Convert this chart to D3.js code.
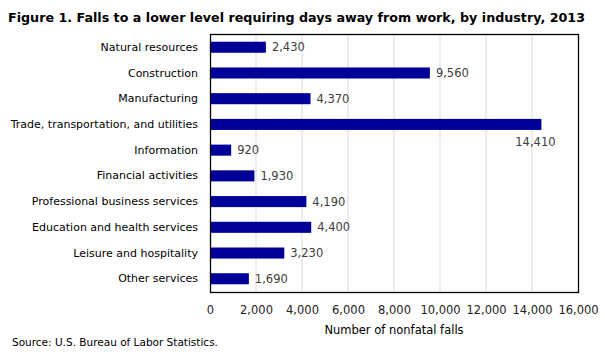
<!DOCTYPE html>
<html>
<head>
<meta charset="utf-8">
<script src="https://cdn.jsdelivr.net/npm/d3@7"></script>
<style>
  body { margin: 0; background: #fff; }
  text { font-family: "DejaVu Sans", sans-serif; }
</style>
</head>
<body>
<div id="Container"></div>
<script>
var industries = ["Natural resources", "Construction", "Manufacturing", "Trade, transportation, and utilities",
    "Information", "Financial activities", "Professional business services", "Education and health services",
    "Leisure and hospitality", "Other services"];
var falls = [2430, 9560, 4370, 14410, 920, 1930, 4190, 4400, 3230, 1690];
var xTicks = [0, 2000, 4000, 6000, 8000, 10000, 12000, 14000, 16000];

var margin = { top: 34, right: 27, bottom: 69, left: 210 },
    w = 605 - margin.left - margin.right,
    h = 361 - margin.top - margin.bottom;

var canvas = d3.select("#Container").append("svg")
    .attr("width", 605)
    .attr("height", 361);

var svg = canvas.append("g")
    .attr("transform", "translate(" + margin.left + "," + margin.top + ")");

var fmt = d3.format(",");

canvas.append("text")
    .text("Figure 1. Falls to a lower level requiring  days away from work, by industry, 2013")
    .attr("x", 8)
    .attr("y", 22)
    .attr("font-size", 13)
    .attr("font-family", "DejaVu Sans Condensed")
    .attr("font-weight", "bold")
    .attr("textLength", 577)
    .attr("lengthAdjust", "spacingAndGlyphs")
    .attr("fill", "#000");

var x = d3.scaleLinear().domain([0, 16000]).range([0, w]);
var y = d3.scaleBand().domain(industries).range([0, h]).paddingInner(0.57).paddingOuter(0.3);

// grid
svg.selectAll("line.grid")
    .data(xTicks.slice(1, -1))
    .enter()
    .append("line")
        .attr("class", "grid")
        .attr("x1", function(d) { return x(d); })
        .attr("x2", function(d) { return x(d); })
        .attr("y1", 0)
        .attr("y2", h)
        .attr("stroke", "#d9d9d9")
        .attr("stroke-width", 1);

svg.selectAll("rect.bar")
    .data(industries)
    .enter()
    .append("rect")
        .attr("class", "bar")
        .attr("x", 0)
        .attr("y", function(d) { return y(d); })
        .attr("width", function(d, i) { return x(falls[i]); })
        .attr("height", y.bandwidth())
        .attr("fill", "#000099");

svg.append("rect")
    .attr("x", 0.5)
    .attr("y", 0.5)
    .attr("width", w)
    .attr("height", h)
    .attr("fill", "none")
    .attr("stroke", "#000")
    .attr("stroke-width", 1.3);

// value labels
svg.selectAll("text.val")
    .data(industries)
    .enter()
    .append("text")
        .attr("class", "val")
        .attr("x", function(d, i) { return falls[i] > 14000 ? x(falls[i]) - 6 : x(falls[i]) + 6; })
        .attr("y", function(d, i) { return falls[i] > 14000 ? y(d) + y.bandwidth() + 16 : y(d) + y.bandwidth() / 2 + 4; })
        .attr("text-anchor", function(d, i) { return falls[i] > 14000 ? "middle" : "start"; })
        .attr("font-size", 11.5)
        .attr("fill", "#404040")
        .text(function(d, i) { return fmt(falls[i]); });

// category labels
svg.append("g")
    .call(d3.axisLeft(y).tickSize(0).tickPadding(12))
    .call(function(g) { g.select(".domain").remove(); })
    .selectAll("text")
        .attr("font-size", 11)
        .attr("font-family", "DejaVu Sans")
        .attr("fill", "#000");

// x axis
svg.append("g")
    .attr("transform", "translate(0," + h + ")")
    .call(d3.axisBottom(x).tickValues(xTicks).tickFormat(fmt).tickSize(0).tickPadding(14))
    .call(function(g) { g.select(".domain").remove(); })
    .selectAll("text")
        .attr("font-size", 11.5)
        .attr("font-family", "DejaVu Sans")
        .attr("fill", "#222");

canvas.append("text")
    .text("Number of nonfatal falls")
    .attr("x", margin.left + w / 2)
    .attr("y", 334)
    .attr("text-anchor", "middle")
    .attr("font-size", 11.5)
    .attr("fill", "#000");

canvas.append("text")
    .text("Source:  U.S. Bureau  of Labor Statistics.")
    .attr("x", 12)
    .attr("y", 346)
    .attr("font-size", 10.5)
    .attr("fill", "#000");
</script>
</body>
</html>
